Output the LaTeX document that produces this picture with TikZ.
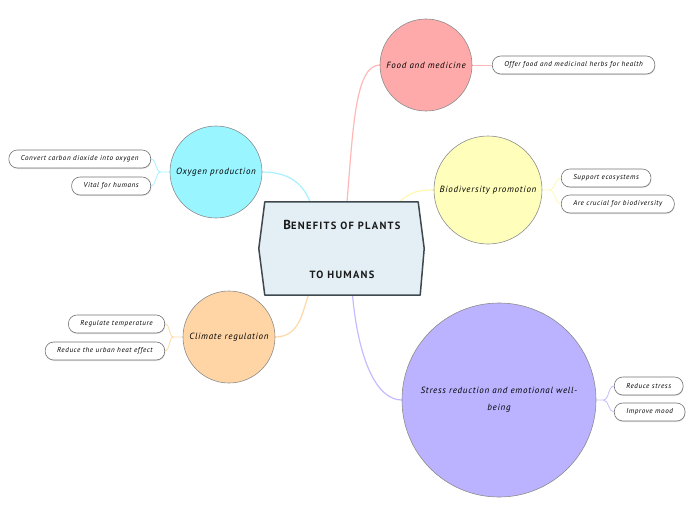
\documentclass[tikz,border=0pt]{standalone}
\usepackage{fontspec}
\newfontfamily\handfont[LetterSpace=8]{PT Sans}
\newfontfamily\titlefont[LetterSpace=12]{PT Sans}
\usetikzlibrary{positioning,shadows,backgrounds}

\definecolor{foodfill}{HTML}{FFAAAA}
\definecolor{foodline}{HTML}{FFB8B8}
\definecolor{oxyfill}{HTML}{99F5FF}
\definecolor{oxyline}{HTML}{A8F0FF}
\definecolor{biofill}{HTML}{FFFFBB}
\definecolor{bioline}{HTML}{FFF8B0}
\definecolor{climfill}{HTML}{FFD5A5}
\definecolor{climline}{HTML}{FFD8A8}
\definecolor{stressfill}{HTML}{BBB3FF}
\definecolor{stressline}{HTML}{C4BCFF}
\definecolor{rootfill}{HTML}{E3EFF5}
\definecolor{rootline}{HTML}{3E4850}

\begin{document}
\begin{tikzpicture}[
    x=1pt, y=-1pt,
    topic/.style={circle, draw=black!45, line width=0.6pt, align=center, inner sep=0pt,
        font=\handfont\itshape\fontsize{9}{17}\selectfont},
    leaf/.style={rectangle, rounded corners=8.5pt, draw=black!55, line width=0.6pt, fill=white,
        minimum height=18pt, inner xsep=12pt, font=\handfont\itshape\fontsize{7.1}{8}\selectfont,
        drop shadow={shadow xshift=0.5pt, shadow yshift=-1pt, fill=black!25}},
    link/.style={line width=1.2pt},
    twig/.style={line width=0.8pt},
    title/.style={font=\titlefont\bfseries\fontsize{10.5}{12}\selectfont, text=black!90}
]
    \useasboundingbox (0,0) rectangle (697,520);

    % central topic and the five main topics
    \node[minimum width=165pt, minimum height=93pt] (root) at (341.5,248.5) {};
    \node[title] (title1) at (342,225) {{\fontsize{13}{13}\selectfont B}ENEFITS OF PLANTS};
    \node[title] (title2) at (342,275) {TO HUMANS};

    \node[topic, fill=foodfill, minimum size=92pt] (food) at (426,65) {Food and medicine};
    \node[topic, fill=oxyfill, minimum size=92pt] (oxy) at (216,172) {Oxygen production};
    \node[topic, fill=biofill, minimum size=108pt] (bio) at (488,190) {Biodiversity promotion};
    \node[topic, fill=climfill, minimum size=92pt] (clim) at (229,337) {Climate regulation};
    \node[topic, fill=stressfill, minimum size=194pt] (stress) at (499,400)
        {Stress reduction and emotional well-\\being};

    % leaves
    \node[leaf, anchor=west] (herbs) at (492,65) {Offer food and medicinal herbs for health};
    \node[leaf, anchor=east] (convert) at (151,159) {Convert carbon dioxide into oxygen};
    \node[leaf, anchor=east] (vital) at (151,186) {Vital for humans};
    \node[leaf, anchor=west] (support) at (561,178) {Support ecosystems};
    \node[leaf, anchor=west] (crucial) at (561,204) {Are crucial for biodiversity};
    \node[leaf, anchor=east] (temp) at (165,324) {Regulate temperature};
    \node[leaf, anchor=east] (heat) at (165,351) {Reduce the urban heat effect};
    \node[leaf, anchor=west] (lessstress) at (614,386) {Reduce stress};
    \node[leaf, anchor=west] (mood) at (614,412) {Improve mood};

    \coordinate (oxyj) at ([xshift=-9pt]oxy.west);
    \coordinate (bioj) at ([xshift=7pt]bio.east);
    \coordinate (climj) at ([xshift=-9pt]clim.west);
    \coordinate (stressj) at ([xshift=7pt]stress.east);

    \begin{scope}[on background layer]
        \draw[link, foodline] ([xshift=5.5pt]root.north) .. controls +(6,-70) and +(-25,0) .. (food.west);
        \draw[link, oxyline] (oxy.east) .. controls +(30,0) and +(-6,-15) .. ([xshift=-31.5pt]root.north);
        \draw[link, bioline] ([xshift=58pt]root.north) .. controls +(10,-8) and +(-20,0) .. (bio.west);
        \draw[link, climline] (clim.east) .. controls +(25,0) and +(-6,15) .. ([xshift=-33pt]root.south);
        \draw[link, stressline] ([xshift=11pt]root.south) .. controls +(6,65) and +(-25,0) .. (stress.west);

        \draw[twig, foodline] (food.east) -- (herbs.west);
        \draw[twig, oxyline] (oxy.west) -- (oxyj) .. controls +(-5,0) and +(5,0) .. (convert.east);
        \draw[twig, oxyline] (oxyj) .. controls +(-5,0) and +(5,0) .. (vital.east);
        \draw[twig, bioline] (bio.east) -- (bioj) .. controls +(6,0) and +(-6,0) .. (support.west);
        \draw[twig, bioline] (bioj) .. controls +(6,0) and +(-6,0) .. (crucial.west);
        \draw[twig, climline] (clim.west) -- (climj) .. controls +(-5,0) and +(5,0) .. (temp.east);
        \draw[twig, climline] (climj) .. controls +(-5,0) and +(5,0) .. (heat.east);
        \draw[twig, stressline] (stress.east) -- (stressj) .. controls +(6,0) and +(-6,0) .. (lessstress.west);
        \draw[twig, stressline] (stressj) .. controls +(6,0) and +(-6,0) .. (mood.west);

        \draw[fill=rootfill, draw=rootline, line width=1.5pt, line join=round]
            ([xshift=6pt]root.north west) -- ([xshift=-6pt]root.north east) -- (root.east)
            -- ([xshift=-4pt]root.south east) -- ([xshift=6pt]root.south west) -- (root.west) -- cycle;
    \end{scope}
\end{tikzpicture}
\end{document}
